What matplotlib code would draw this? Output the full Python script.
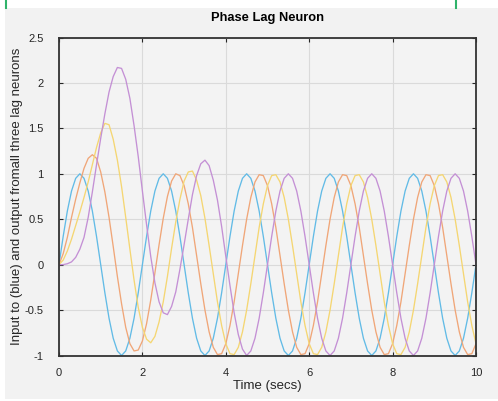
import matplotlib.pyplot as plt
from matplotlib.patches import Rectangle
from matplotlib.lines import Line2D
import numpy as np

# time axis, 0.1 s steps
t = np.arange(0, 101) / 10.0

blue = [0, .31, .59, .81, .95, 1, .95, .81, .59, .31,
        0, -.31, -.59, -.81, -.95, -1, -.95, -.81, -.59, -.31,
        0, .31, .59, .81, .95, 1, .95, .81, .59, .31,
        0, -.31, -.59, -.81, -.95, -1, -.95, -.81, -.59, -.31,
        0, .31, .59, .81, .95, 1, .95, .81, .59, .31,
        0, -.31, -.59, -.81, -.95, -1, -.95, -.81, -.59, -.31,
        0, .31, .59, .81, .95, 1, .95, .81, .59, .31,
        0, -.31, -.59, -.81, -.95, -1, -.95, -.81, -.59, -.31,
        0, .31, .59, .81, .95, 1, .95, .81, .59, .31,
        0, -.31, -.59, -.81, -.95, -1, -.95, -.81, -.59, -.31,
        0]

orange = [0, .12, .30, .52, .72, .90, 1.06, 1.17, 1.21, 1.17,
          1.02, .80, .52, .20, -.13, -.43, -.69, -.87, -.95, -.94,
          -.84, -.65, -.39, -.09, .22, .51, .75, .92, 1.0, .98,
          .87, .67, .41, .10, -.21, -.50, -.74, -.91, -.99, -.98,
          -.87, -.67, -.41, -.10, .21, .50, .74, .91, .99, .98,
          .87, .67, .41, .10, -.21, -.50, -.74, -.91, -.99, -.98,
          -.87, -.67, -.41, -.10, .21, .50, .74, .91, .99, .98,
          .87, .67, .41, .10, -.21, -.50, -.74, -.91, -.99, -.98,
          -.87, -.67, -.41, -.10, .21, .50, .74, .91, .99, .98,
          .87, .67, .41, .10, -.21, -.50, -.74, -.91, -.99, -.98,
          -.87]

yellow = [0, .05, .15, .28, .43, .58, .74, .91, 1.10, 1.29,
          1.45, 1.555, 1.54, 1.38, 1.15, .86, .52, .17, -.17, -.47,
          -.69, -.82, -.86, -.79, -.63, -.41, -.13, .18, .47, .72,
          .92, 1.02, 1.03, .93, .76, .51, .21, -.10, -.41, -.67,
          -.87, -.98, -.99, -.91, -.74, -.50, -.21, .10, .41, .67,
          .87, .98, .99, .91, .74, .50, .21, -.10, -.41, -.67,
          -.87, -.98, -.99, -.91, -.74, -.50, -.21, .10, .41, .67,
          .87, .98, .99, .91, .74, .50, .21, -.10, -.41, -.67,
          -.87, -.98, -.99, -.91, -.74, -.50, -.21, .10, .41, .67,
          .87, .98, .99, .91, .74, .50, .21, -.10, -.41, -.67,
          -.87]

purple = [0, 0, .01, .03, .08, .17, .30, .52, .80, 1.10,
          1.39, 1.66, 1.90, 2.07, 2.17, 2.16, 2.04, 1.83, 1.53, 1.19,
          .81, .44, .09, -.20, -.41, -.53, -.55, -.46, -.30, -.05,
          .22, .50, .77, .98, 1.11, 1.15, 1.09, .93, .71, .42,
          .09, -.23, -.53, -.77, -.93, -1.0, -.95, -.81, -.59, -.31,
          0, .31, .59, .81, .95, 1, .95, .81, .59, .31,
          0, -.31, -.59, -.81, -.95, -1, -.95, -.81, -.59, -.31,
          0, .31, .59, .81, .95, 1, .95, .81, .59, .31,
          0, -.31, -.59, -.81, -.95, -1, -.95, -.81, -.59, -.31,
          0, .31, .59, .81, .95, 1, .95, .81, .59, .31,
          0]

xticks = [0, 2, 4, 6, 8, 10]
yticks = [-1, -0.5, 0, 0.5, 1, 1.5, 2, 2.5]
yticklabels = ['-1', '-0.5', '0', '0.5', '1', '1.5', '2', '2.5']

plt.rcParams['font.family'] = ['Liberation Sans', 'DejaVu Sans']

W, H = 498, 401
fig = plt.figure(figsize=(W / 100, H / 100), dpi=100, facecolor='white')

# grey window panel + the green marks at the top of the screenshot
fig.add_artist(Rectangle((5 / W, 1 - 399 / H), 493 / W, 391 / H,
                         transform=fig.transFigure, facecolor='#f2f2f2',
                         edgecolor='none', zorder=-10))
for gx in (5.5, 455.5):
    fig.add_artist(Line2D([gx / W, gx / W], [1, 1 - 8 / H], transform=fig.transFigure,
                          color='#2fb36a', lw=1.5))

ax = fig.add_axes([59 / W, 1 - 355.5 / H, (476 - 59) / W, (355.5 - 37.5) / H])
ax.set_facecolor('#f3f3f3')

ax.plot(t, blue, color='#62bbe6', lw=0.95)
ax.plot(t, orange, color='#f0a678', lw=0.95)
ax.plot(t, yellow, color='#f5d672', lw=0.95)
ax.plot(t, purple, color='#c490d5', lw=0.95)

ax.set_xlim(0, 10)
ax.set_ylim(-1, 2.5)
ax.set_xticks(xticks)
ax.set_yticks(yticks)
ax.set_yticklabels(yticklabels)
ax.grid(True, color='#dadada', lw=0.8)
ax.set_axisbelow(True)
ax.tick_params(direction='in', top=True, right=True, length=3, width=0.8,
               color='#262626', labelsize=8, labelcolor='#262626')
ax.tick_params(axis='x', pad=9)
ax.tick_params(axis='y', pad=11)
for s in ax.spines.values():
    s.set_color('#333333')
    s.set_linewidth(1.3)

ax.set_title('Phase Lag Neuron', fontsize=9.3, fontweight='bold', pad=12)
ax.set_xlabel('Time (secs)', fontsize=9.5, color='#262626')
ax.set_ylabel('Input to (blue) and output fromall three lag neurons', fontsize=9.5,
              color='#262626')
ax.xaxis.label.set_va('center')
ax.yaxis.label.set_va('center')
ax.xaxis.set_label_coords(0.5, (355.5 - 386) / 318)
ax.yaxis.set_label_coords((17 - 59) / 417, 0.5)

fig.savefig('out.png', dpi=100)
